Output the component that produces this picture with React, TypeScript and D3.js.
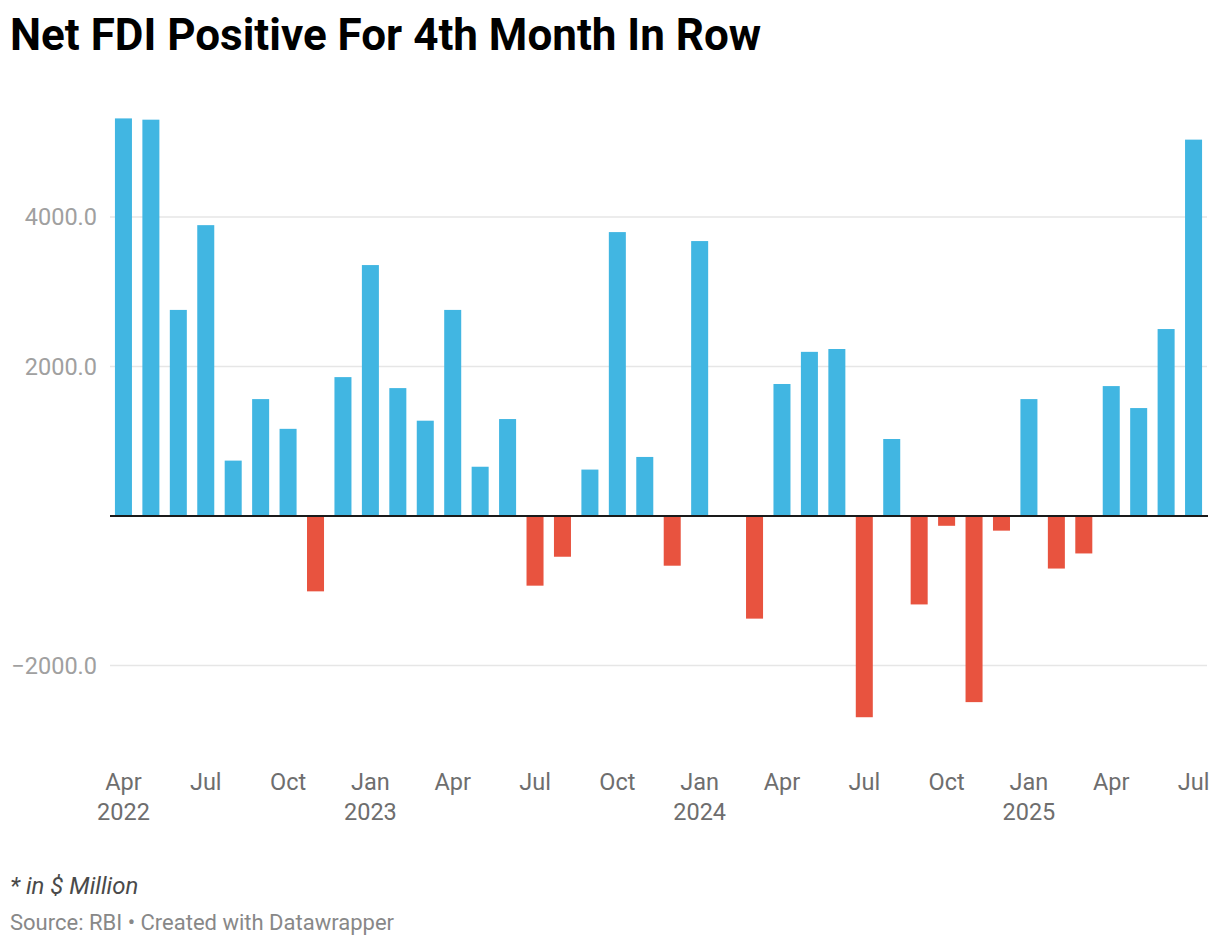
import React, { useEffect, useRef } from 'react';
import * as d3 from 'd3';

// Net FDI, $ million, Apr 2022 .. Jul 2025
const months = [
  'Apr 2022', 'May 2022', 'Jun 2022', 'Jul 2022', 'Aug 2022', 'Sep 2022', 'Oct 2022', 'Nov 2022', 'Dec 2022',
  'Jan 2023', 'Feb 2023', 'Mar 2023', 'Apr 2023', 'May 2023', 'Jun 2023', 'Jul 2023', 'Aug 2023', 'Sep 2023',
  'Oct 2023', 'Nov 2023', 'Dec 2023', 'Jan 2024', 'Feb 2024', 'Mar 2024', 'Apr 2024', 'May 2024', 'Jun 2024',
  'Jul 2024', 'Aug 2024', 'Sep 2024', 'Oct 2024', 'Nov 2024', 'Dec 2024', 'Jan 2025', 'Feb 2025', 'Mar 2025',
  'Apr 2025', 'May 2025', 'Jun 2025', 'Jul 2025',
];

const netFdi = [
  5319, 5302, 2757, 3891, 741, 1564, 1166, -1008, 1858,
  3357, 1711, 1275, 2757, 659, 1297, -932, -545, 621,
  3798, 790, -665, 3678, 0, -1373, 1766, 2196, 2234,
  -2692, 1030, -1183, -131, -2490, -196, 1564, -703, -501,
  1738, 1444, 2501, 5035,
];

const yTicks = [-2000, 2000, 4000];

const App: React.FC = () => {
  const svgRef = useRef<SVGSVGElement>(null);

  useEffect(() => {
    if (!svgRef.current) return;
    const svg = d3.select(svgRef.current);
    svg.selectAll('*').remove();

    const x = d3.scaleBand<string>()
      .domain(months)
      .range([110, 1207])
      .paddingInner(0.38)
      .paddingOuter(0.18);

    const y = d3.scaleLinear()
      .domain([-2000, 4000])
      .range([665.5, 217]);

    // title
    svg.append('text')
      .attr('x', 10)
      .attr('y', 50)
      .attr('font-family', 'Roboto')
      .attr('font-weight', 700)
      .attr('font-size', 44)
      .attr('fill', '#000')
      .text('Net FDI Positive For 4th Month In Row');

    // gridlines
    const grid = svg.append('g');
    grid.selectAll('line')
      .data(yTicks)
      .join('line')
        .attr('x1', 110)
        .attr('x2', 1207)
        .attr('y1', d => y(d))
        .attr('y2', d => y(d))
        .attr('stroke', '#e6e6e6')
        .attr('stroke-width', 1.5);

    grid.selectAll('text')
      .data(yTicks)
      .join('text')
        .attr('x', 97)
        .attr('y', d => y(d))
        .attr('dy', '0.35em')
        .attr('text-anchor', 'end')
        .attr('font-family', 'Roboto')
        .attr('font-size', 23.5)
        .attr('fill', '#a0a0a0')
        .text(d => d3.format('.1f')(d).replace('-', '−'));

    // bars
    svg.append('g')
      .selectAll('rect')
      .data(months)
      .join('rect')
        .attr('x', d => x(d) as number)
        .attr('width', x.bandwidth())
        .attr('y', (d, i) => y(Math.max(0, netFdi[i])))
        .attr('height', (d, i) => Math.abs(y(netFdi[i]) - y(0)))
        .attr('fill', (d, i) => (netFdi[i] >= 0 ? '#41b6e2' : '#e8533f'));

    // zero line
    svg.append('line')
      .attr('x1', 110)
      .attr('x2', 1208)
      .attr('y1', y(0))
      .attr('y2', y(0))
      .attr('stroke', '#1a1a1a')
      .attr('stroke-width', 2);

    // x axis labels, every third month
    const tickMonths = months.filter((d, i) => i % 3 === 0);
    const xLabels = svg.append('g')
      .attr('font-family', 'Roboto')
      .attr('font-size', 23.5)
      .attr('fill', '#6e6e6e')
      .attr('text-anchor', 'middle')
      .selectAll('g')
      .data(tickMonths)
      .join('g')
        .attr('transform', d => `translate(${(x(d) as number) + x.bandwidth() / 2},0)`);

    xLabels.append('text')
      .attr('y', 790)
      .text(d => d.split(' ')[0]);

    xLabels.filter((d, i) => i === 0 || d.startsWith('Jan'))
      .append('text')
      .attr('y', 820)
      .text(d => d.split(' ')[1]);

    // notes
    svg.append('text')
      .attr('x', 10)
      .attr('y', 894)
      .attr('font-family', 'Roboto')
      .attr('font-style', 'italic')
      .attr('font-size', 24)
      .attr('fill', '#4a4a4a')
      .text('* in $ Million');

    svg.append('text')
      .attr('x', 10)
      .attr('y', 930)
      .attr('font-family', 'Roboto')
      .attr('font-size', 22)
      .attr('fill', '#888')
      .text('Source: RBI • Created with Datawrapper');
  }, []);

  return (
    <svg
      ref={svgRef}
      width={1220}
      height={946}
      style={{ position: 'absolute', left: 0, top: 0, background: '#fff' }}
    />
  );
};

export default App;
